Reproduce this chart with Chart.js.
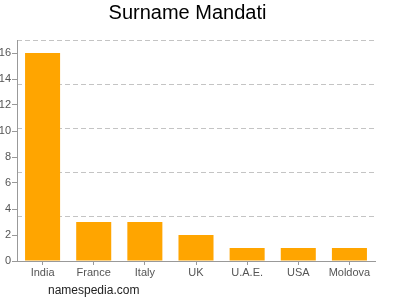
<!DOCTYPE html>
<html>
<head>
<meta charset="utf-8">
<script src="https://cdn.jsdelivr.net/npm/chart.js@4.4.1/dist/chart.umd.min.js"></script>
<style>
  html, body { margin: 0; padding: 0; background: #fff; }
  #wrap { position: relative; width: 400px; height: 300px; }
  #footer {
    position: absolute; left: 48px; top: 283px;
    font: 12px "Liberation Sans", Arial, sans-serif; color: #222;
  }
</style>
</head>
<body>
<div id="wrap">
  <canvas id="chart" width="400" height="300"></canvas>
  <div id="footer">namespedia.com</div>
</div>
<script>
const countries = ["India", "France", "Italy", "UK", "U.A.E.", "USA", "Moldova"]
const counts = [16, 3, 3, 2, 1, 1, 1]
const yTickValues = [0, 2, 4, 6, 8, 10, 12, 14, 16]
const gridValues = [0, 3.4, 6.8, 10.2, 13.6, 17]
const axisMax = 17

const labelFont = { family: "'Liberation Sans', Arial, sans-serif", size: 11 }

const ctx = document.getElementById("chart").getContext("2d")

new Chart(ctx, {
  type: "bar",
  data: {
    labels: countries,
    datasets: [{
      data: counts,
      backgroundColor: "#ffa500",
      borderWidth: 0,
      barPercentage: 0.685,
      categoryPercentage: 1.0,
      yAxisID: "y"
    }]
  },
  options: {
    responsive: false,
    animation: false,
    layout: { padding: { top: 0, right: 25, bottom: 0, left: 0 } },
    plugins: {
      legend: { display: false },
      tooltip: { enabled: false },
      title: {
        display: true,
        text: "Surname Mandati",
        color: "#000",
        font: { family: "'Liberation Sans', Arial, sans-serif", size: 20, weight: "normal" },
        padding: { top: 1, bottom: 15 }
      }
    },
    scales: {
      x: {
        grid: { display: true, drawOnChartArea: false, drawTicks: true, tickLength: 4, offset: false, color: "#999" },
        border: { display: true, color: "#999" },
        ticks: { color: "#555", font: labelFont, padding: 1, maxRotation: 0, autoSkip: false },
        afterFit: (axis) => { axis.height = 39 }
      },
      grid2: {
        position: "left",
        min: 0,
        max: axisMax,
        grid: { display: true, drawTicks: false, color: "#c4c4c4" },
        border: { display: false, dash: [5, 3] },
        ticks: { display: false },
        afterBuildTicks: (axis) => { axis.ticks = gridValues.map(v => ({ value: v })) },
        afterFit: (axis) => { axis.width = 0 }
      },
      y: {
        position: "left",
        min: 0,
        max: axisMax,
        grid: { display: true, drawOnChartArea: false, drawTicks: true, tickLength: 5, color: "#999" },
        border: { display: true, color: "#999" },
        ticks: { color: "#555", font: labelFont, padding: 1 },
        afterBuildTicks: (axis) => { axis.ticks = yTickValues.map(v => ({ value: v })) },
        afterFit: (axis) => { axis.width = 17 }
      }
    }
  }
})
</script>
</body>
</html>
